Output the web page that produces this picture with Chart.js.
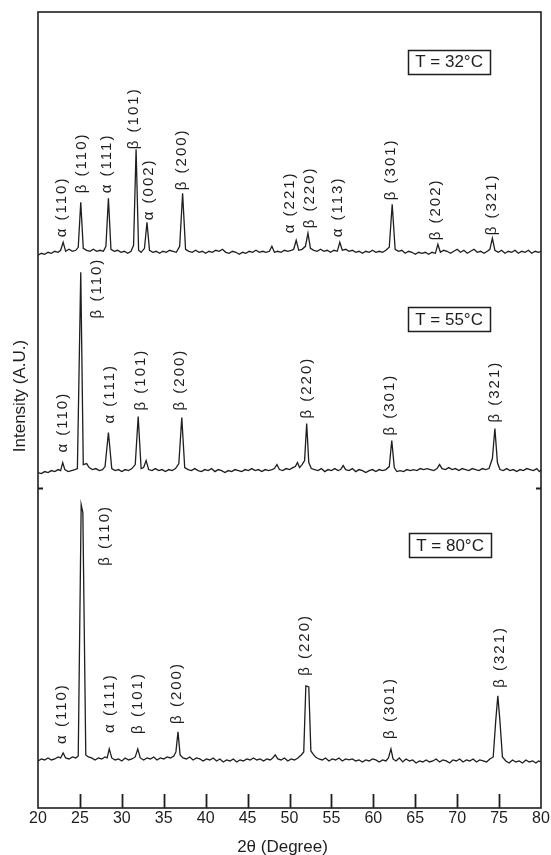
<!DOCTYPE html>
<html>
<head>
<meta charset="utf-8">
<script src="https://cdn.jsdelivr.net/npm/chart.js@4/dist/chart.umd.min.js"></script>
<style>
  html, body { margin: 0; padding: 0; background: #fff; }
  #wrap { width: 551px; height: 855px; }
</style>
</head>
<body>
<div id="wrap"><canvas id="c" width="551" height="855"></canvas></div>
<script>
// ---------- DATA ----------
// 2θ positions (degree) and intensities above each trace's baseline (A.U.)
const twoTheta32 = [20.0,20.4,20.8,21.2,21.6,22.0,22.4,22.7,23.0,23.3,23.7,24.1,24.5,24.8,25.1,25.4,25.8,26.2,26.6,27.0,27.4,27.8,28.1,28.4,28.7,29.1,29.5,29.9,30.3,30.7,31.1,31.4,31.7,32.0,32.3,32.7,33.0,33.3,33.7,34.1,34.5,34.9,35.3,35.7,36.1,36.5,36.9,37.25,37.6,38.0,38.4,38.8,39.2,39.6,40.0,40.4,40.8,41.2,41.6,42.0,42.4,42.8,43.2,43.6,44.0,44.4,44.8,45.2,45.6,46.0,46.4,46.8,47.2,47.6,47.9,48.2,48.6,49.0,49.4,49.8,50.2,50.5,50.8,51.1,51.5,51.9,52.2,52.5,52.9,53.3,53.7,54.1,54.5,54.9,55.3,55.7,56.0,56.3,56.7,57.1,57.5,57.9,58.3,58.7,59.1,59.5,59.9,60.3,60.7,61.1,61.5,61.9,62.25,62.6,63.0,63.4,63.8,64.2,64.6,65.0,65.4,65.8,66.2,66.6,67.0,67.4,67.7,68.0,68.4,68.8,69.2,69.6,70.0,70.4,70.8,71.2,71.6,72.0,72.4,72.8,73.2,73.6,73.9,74.2,74.5,74.9,75.3,75.7,76.1,76.5,76.9,77.3,77.7,78.1,78.5,78.9,79.3,79.7,80.0];
const intensity32 = [-1,1,0,2,1,3,2,4,12,3,5,3,4,7,52,6,4,3,5,3,4,3,8,56,5,3,4,2,3,1,3,9,105,4,2,6,32,4,2,3,1,3,2,4,3,2,8,61,5,3,2,4,2,3,1,3,2,4,3,5,2,1,3,2,0,2,1,3,2,4,2,3,2,3,8,2,3,2,4,3,4,5,14,4,5,8,21,6,4,3,5,3,4,2,4,3,12,4,5,3,4,2,3,1,3,2,4,2,3,2,4,7,50,5,3,4,1,3,2,0,2,1,2,0,2,1,10,2,4,3,1,3,5,2,4,1,3,5,2,3,1,3,5,16,4,2,4,1,3,2,4,1,3,2,4,1,3,2,3];

const twoTheta55 = [20.0,20.4,20.8,21.2,21.6,22.0,22.4,22.7,22.95,23.2,23.6,24.0,24.4,24.7,25.1,25.4,25.8,26.1,26.5,26.9,27.3,27.7,28.0,28.4,28.8,29.2,29.6,30.0,30.4,30.8,31.2,31.6,31.95,32.3,32.6,32.9,33.2,33.6,34.0,34.4,34.8,35.2,35.6,36.0,36.4,36.8,37.15,37.5,37.9,38.3,38.7,39.1,39.5,39.9,40.3,40.7,41.1,41.5,41.9,42.3,42.7,43.1,43.5,43.9,44.3,44.7,45.1,45.5,45.9,46.3,46.7,47.1,47.5,47.9,48.2,48.5,48.8,49.2,49.6,50.0,50.4,50.7,50.95,51.2,51.5,51.8,52.05,52.3,52.6,53.0,53.4,53.8,54.2,54.6,55.0,55.4,55.8,56.1,56.4,56.7,57.1,57.5,57.9,58.3,58.7,59.1,59.5,59.9,60.3,60.7,61.1,61.5,61.9,62.2,62.5,62.8,63.2,63.6,64.0,64.4,64.8,65.2,65.6,66.0,66.4,66.8,67.2,67.6,67.9,68.2,68.6,69.0,69.4,69.8,70.2,70.6,71.0,71.4,71.8,72.2,72.6,73.0,73.4,73.8,74.2,74.5,74.8,75.1,75.5,75.9,76.3,76.7,77.1,77.5,77.9,78.3,78.7,79.1,79.5,79.8,80.0];
const intensity55 = [0,-1,1,0,2,1,3,2,10,3,1,2,3,4,200,8,9,5,3,4,2,3,6,40,4,2,3,1,3,2,4,8,56,4,5,12,3,2,4,2,3,1,3,2,4,9,55,5,3,2,4,2,1,3,2,4,1,3,2,0,2,1,3,2,1,3,2,4,2,3,1,3,2,3,4,8,3,2,4,3,5,6,10,5,8,12,49,10,4,3,2,4,1,3,2,4,2,3,7,3,2,4,1,3,2,0,2,3,1,3,2,3,6,32,5,1,2,1,3,2,3,2,4,3,4,3,2,4,8,4,3,5,3,4,2,4,3,2,4,3,2,4,3,4,14,44,10,3,2,4,2,3,1,3,2,4,3,2,4,1,3];

const twoTheta80 = [20.0,20.4,20.8,21.2,21.6,22.0,22.4,22.7,23.0,23.3,23.7,24.1,24.5,24.8,25.15,25.35,25.7,26.0,26.4,26.8,27.2,27.6,28.0,28.25,28.5,28.8,29.2,29.6,30.0,30.4,30.8,31.2,31.6,31.9,32.2,32.6,33.0,33.4,33.8,34.2,34.6,35.0,35.4,35.8,36.2,36.45,36.7,36.95,37.3,37.7,38.1,38.5,38.9,39.3,39.7,40.1,40.5,40.9,41.3,41.7,42.1,42.5,42.9,43.3,43.7,44.1,44.5,44.9,45.3,45.7,46.1,46.5,46.9,47.3,47.7,48.0,48.3,48.6,49.0,49.4,49.8,50.2,50.6,51.0,51.4,51.7,51.95,52.3,52.55,52.8,53.1,53.5,53.9,54.3,54.7,55.1,55.5,55.9,56.3,56.7,57.1,57.5,57.9,58.3,58.7,59.1,59.5,59.9,60.3,60.7,61.1,61.5,61.8,62.1,62.35,62.7,63.1,63.5,63.9,64.3,64.7,65.1,65.5,65.9,66.3,66.7,67.1,67.5,67.9,68.3,68.7,69.1,69.5,69.9,70.3,70.7,71.1,71.5,71.9,72.3,72.7,73.1,73.5,73.9,74.3,74.6,74.85,75.1,75.4,75.8,76.2,76.6,77.0,77.4,77.8,78.2,78.6,79.0,79.4,79.7,80.0];
const intensity80 = [0,2,1,3,1,2,4,3,8,3,2,4,3,5,256,248,6,4,3,1,3,2,4,3,12,3,1,2,0,3,1,2,4,12,3,1,3,2,4,1,3,2,4,3,5,9,29,6,3,2,4,1,3,2,0,2,1,3,0,2,-1,1,0,2,-1,1,0,2,1,3,1,2,0,2,1,3,6,2,1,3,0,2,1,3,6,9,75,74,10,7,4,2,1,3,0,2,1,3,0,2,1,2,0,1,-1,1,0,2,1,-1,1,0,3,12,2,0,3,-1,2,0,1,-2,0,-1,1,-1,0,2,-1,1,0,-2,1,0,2,-1,1,0,2,-1,1,0,-1,2,4,40,65,40,4,0,-2,1,-1,0,-2,1,-1,0,-2,0,-1];

// vertical stacking offsets of the three patterns (A.U.)
const traceNames = ['T = 32°C', 'T = 55°C', 'T = 80°C'];
const traceOffsets = [553, 335, 47];

// x axis ticks
const xTickMin = 20, xTickMax = 80, xTickStep = 5;
const xTickValues = [25, 30, 35, 40, 45, 50, 55, 60, 65, 70, 75];
const yTickValues = [320];

// peak labels: text, 2θ, stacked intensity at label start
const labelText32 = ['α (110)','β (110)','α (111)','β (101)','α (002)','β (200)','α (221)','β (220)','α (113)','β (301)','β (202)','β (321)'];
const labelX32    = [22.86, 25.25, 28.23, 31.45, 33.24, 37.18, 50.06, 52.45, 55.79, 62.11, 67.48, 74.16];
const labelY32    = [570, 614, 614, 658, 587, 617, 574, 579, 570, 607, 567, 572];

const labelText55 = ['α (110)','β (110)','α (111)','β (101)','β (200)','β (220)','β (301)','β (321)'];
const labelX55    = [22.98, 27.04, 28.59, 32.29, 36.94, 52.09, 61.99, 74.52];
const labelY55    = [355, 489, 384, 397, 397, 389, 372, 385];

const labelText80 = ['α (110)','β (110)','α (111)','β (101)','β (200)','β (220)','β (301)','β (321)'];
const labelX80    = [22.86, 27.99, 28.59, 31.93, 36.58, 51.85, 61.99, 75.11];
const labelY80    = [64, 242, 75, 74, 84, 132, 69, 120];

// temperature boxes: 2θ / stacked intensity of box centre
const boxX = [69.03, 69.03, 69.15];
const boxY = [745.5, 488.5, 262.5];

const xTitle = '2θ (Degree)';
const yTitle = 'Intensity (A.U.)';

// ---------- BUILD ----------
const FONT = '"Liberation Sans", Arial, Helvetica, sans-serif';
const INK = '#1e1e1e';

function series(xs, ys, off) {
  return xs.map((x, i) => ({ x: x, y: ys[i] + off }));
}

const peakLabels = [
  { t: labelText32, x: labelX32, y: labelY32 },
  { t: labelText55, x: labelX55, y: labelY55 },
  { t: labelText80, x: labelX80, y: labelY80 }
];

const decor = {
  id: 'decor',
  afterDatasetsDraw(chart) {
    const ctx = chart.ctx;
    const a = chart.chartArea;
    const xs = chart.scales.x, ys = chart.scales.y;
    ctx.save();
    // frame
    ctx.strokeStyle = INK;
    ctx.lineWidth = 1.6;
    ctx.strokeRect(a.left, a.top, a.right - a.left, a.bottom - a.top);
    // inward x ticks
    ctx.lineWidth = 1.8;
    xTickValues.forEach(v => {
      const px = Math.round(xs.getPixelForValue(v)) + 0.5;
      ctx.beginPath();
      ctx.moveTo(px, a.bottom);
      ctx.lineTo(px, a.bottom - 14);
      ctx.stroke();
    });
    // inward y ticks (both sides)
    yTickValues.forEach(v => {
      const py = Math.round(ys.getPixelForValue(v)) + 0.5;
      ctx.beginPath();
      ctx.moveTo(a.left, py); ctx.lineTo(a.left + 5, py);
      ctx.moveTo(a.right, py); ctx.lineTo(a.right - 5, py);
      ctx.stroke();
    });
    // peak labels (rotated)
    ctx.fillStyle = INK;
    ctx.font = '15px ' + FONT;
    if ('letterSpacing' in ctx) ctx.letterSpacing = '2px';
    ctx.textAlign = 'left';
    ctx.textBaseline = 'middle';
    peakLabels.forEach(g => {
      g.t.forEach((txt, i) => {
        const px = xs.getPixelForValue(g.x[i]);
        const py = ys.getPixelForValue(g.y[i]);
        ctx.save();
        ctx.translate(px, py);
        ctx.rotate(-Math.PI / 2);
        ctx.fillText(txt, 0, 0);
        ctx.restore();
      });
    });
    if ('letterSpacing' in ctx) ctx.letterSpacing = '0px';
    // temperature boxes
    ctx.font = '17px ' + FONT;
    ctx.textAlign = 'center';
    ctx.textBaseline = 'middle';
    ctx.lineWidth = 1.5;
    traceNames.forEach((name, i) => {
      const cx = xs.getPixelForValue(boxX[i]);
      const cy = ys.getPixelForValue(boxY[i]);
      const w = ctx.measureText(name).width + 14;
      const h = 24;
      ctx.strokeRect(Math.round(cx - w / 2) + 0.5, Math.round(cy - h / 2) + 0.5, Math.round(w), h);
      ctx.fillText(name, cx, cy + 1);
    });
    // axis titles
    ctx.font = '17px ' + FONT;
    ctx.textAlign = 'center';
    ctx.textBaseline = 'middle';
    ctx.fillText(xTitle, (a.left + a.right) / 2 - 7, 847);
    ctx.save();
    ctx.translate(20, 396);
    ctx.rotate(-Math.PI / 2);
    ctx.fillText(yTitle, 0, 0);
    ctx.restore();
    ctx.restore();
  }
};

const lineStyle = { borderColor: INK, borderWidth: 1.3, pointRadius: 0, tension: 0, fill: false };

new Chart(document.getElementById('c'), {
  type: 'line',
  data: {
    datasets: [
      Object.assign({ label: traceNames[0], data: series(twoTheta32, intensity32, traceOffsets[0]) }, lineStyle),
      Object.assign({ label: traceNames[1], data: series(twoTheta55, intensity55, traceOffsets[1]) }, lineStyle),
      Object.assign({ label: traceNames[2], data: series(twoTheta80, intensity80, traceOffsets[2]) }, lineStyle)
    ]
  },
  options: {
    responsive: false,
    animation: false,
    devicePixelRatio: 1,
    layout: { autoPadding: false, padding: { left: 0, right: 10, top: 12, bottom: 0 } },
    plugins: { legend: { display: false }, tooltip: { enabled: false }, title: { display: false } },
    scales: {
      x: {
        type: 'linear',
        min: xTickMin, max: xTickMax,
        grid: { display: false, drawTicks: false },
        border: { display: false },
        ticks: { stepSize: xTickStep, padding: 1, color: INK, font: { size: 16, family: FONT }, maxRotation: 0, autoSkip: false },
        afterFit(s) { s.height = 47; }
      },
      y: {
        min: 0, max: 795,
        grid: { display: false, drawTicks: false },
        border: { display: false },
        ticks: { display: false },
        afterFit(s) { s.width = 38; }
      }
    }
  },
  plugins: [decor]
});
</script>
</body>
</html>
